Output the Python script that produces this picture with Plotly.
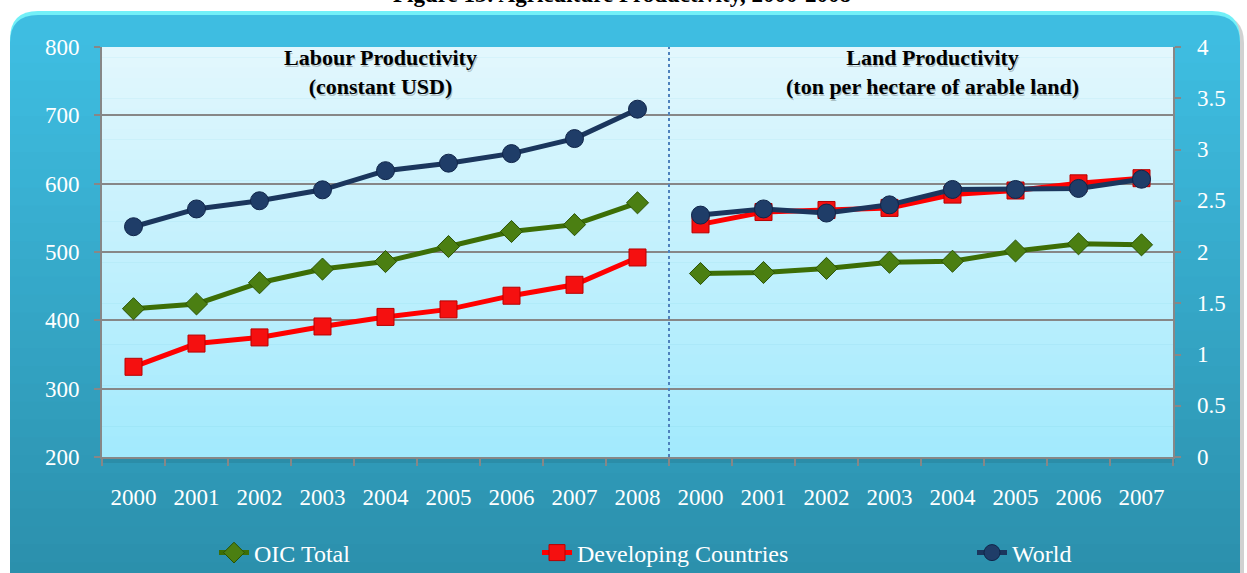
import plotly.graph_objects as go

# ---------------- data ----------------
years_labour = ["2000", "2001", "2002", "2003", "2004", "2005", "2006", "2007", "2008"]
years_land = ["2000", "2001", "2002", "2003", "2004", "2005", "2006", "2007"]

oic_labour = [417, 424, 455, 475, 486, 508, 530, 540, 572]
dev_labour = [332, 366, 375, 391, 405, 416, 436, 452, 492]
world_labour = [537, 563, 575, 591, 619, 630, 644, 666, 709]

oic_land = [1.79, 1.80, 1.84, 1.90, 1.91, 2.01, 2.08, 2.07]
dev_land = [2.27, 2.39, 2.41, 2.43, 2.56, 2.60, 2.67, 2.72]
world_land = [2.36, 2.42, 2.38, 2.46, 2.61, 2.61, 2.62, 2.71]

left_ticks = [200, 300, 400, 500, 600, 700, 800]
right_ticks = [0, 0.5, 1, 1.5, 2, 2.5, 3, 3.5, 4]
right_tick_text = ["0", "0.5", "1", "1.5", "2", "2.5", "3", "3.5", "4"]

series_names = ["OIC Total", "Developing Countries", "World"]

# ---------------- layout geometry ----------------
W, H = 1247, 573
L, R, T, B = 102, 1173, 47, 457
PW, PH = R - L, B - T


def px(x):
    return (x - L) / PW


def py(y):
    return (B - y) / PH


def mix(c1, c2, t):
    a = [int(c1[i:i + 2], 16) for i in (1, 3, 5)]
    b = [int(c2[i:i + 2], 16) for i in (1, 3, 5)]
    return "#%02x%02x%02x" % tuple(round(a[k] + (b[k] - a[k]) * t) for k in range(3))


FONT = "Liberation Serif"

x_lab = list(range(len(years_labour)))
x_land = [len(years_labour) + i for i in range(len(years_land))]
all_years = years_labour + years_land

styles = [
    dict(color="#3d6e06", marker=dict(symbol="diamond", size=17, color="#4b7f12",
                                       line=dict(color="#2a5204", width=1))),
    dict(color="#ff0000", marker=dict(symbol="square", size=17, color="#f51010",
                                       line=dict(color="#b80000", width=1))),
    dict(color="#1b365d", marker=dict(symbol="circle", size=18, color="#1f3d68",
                                       line=dict(color="#10254a", width=1))),
]

fig = go.Figure()
labour_vals = [oic_labour, dev_labour, world_labour]
land_vals = [oic_land, dev_land, world_land]
legends = ["legend", "legend2", "legend3"]

for i, name in enumerate(series_names):
    st = styles[i]
    fig.add_trace(go.Scatter(
        x=x_lab, y=labour_vals[i], mode="lines+markers", name=name,
        line=dict(color=st["color"], width=5), marker=st["marker"],
        legend=legends[i], showlegend=True, yaxis="y", cliponaxis=False))
    fig.add_trace(go.Scatter(
        x=x_land, y=land_vals[i], mode="lines+markers", name=name,
        line=dict(color=st["color"], width=5), marker=st["marker"],
        legend=legends[i], showlegend=False, yaxis="y2", cliponaxis=False))

shapes = []
r = 28


def rounded(x0, y0, x1, y1, r):
    return (f"M {px(x0)},{py(y1)} L {px(x0)},{py(y0 + r)} "
            f"Q {px(x0)},{py(y0)} {px(x0 + r)},{py(y0)} "
            f"L {px(x1 - r)},{py(y0)} Q {px(x1)},{py(y0)} {px(x1)},{py(y0 + r)} "
            f"L {px(x1)},{py(y1)} Z")


shapes.append(dict(type="path", path=rounded(14, 15, 1244, 600, r), xref="paper", yref="paper",
                   fillcolor="rgba(0,0,0,0.18)", line=dict(width=0), layer="below"))
shapes.append(dict(type="path", path=rounded(10, 11, 1240, 600, r), xref="paper", yref="paper",
                   fillcolor="#72f0f8", line=dict(width=0), layer="below"))
shapes.append(dict(type="path", path=rounded(10, 15, 1240, 600, r), xref="paper", yref="paper",
                   fillcolor="#3ebde1", line=dict(width=0), layer="below"))
n = 30
y_start, y_end = 45, 580
for k in range(n):
    y0 = y_start + (y_end - y_start) * k / n
    y1 = y_start + (y_end - y_start) * (k + 1) / n + 1
    shapes.append(dict(type="rect", xref="paper", yref="paper",
                       x0=px(10), x1=px(1240), y0=py(y1), y1=py(y0),
                       fillcolor=mix("#3ebde1", "#2b8fab", (k + 0.5) / n),
                       line=dict(width=0), layer="below"))
# plot area shadow
shapes.append(dict(type="rect", xref="paper", yref="paper", x0=px(L), x1=px(R + 2),
                   y0=py(B + 6), y1=py(B), fillcolor="rgba(0,0,0,0.08)",
                   line=dict(width=0), layer="below"))
# plot area gradient
m = 40
for k in range(m):
    y0 = T + PH * k / m
    y1 = T + PH * (k + 1) / m + 0.6
    shapes.append(dict(type="rect", xref="paper", yref="paper",
                       x0=0, x1=1, y0=py(min(y1, B)), y1=py(y0),
                       fillcolor=mix("#e3f7fd", "#a2eafd", (k + 0.5) / m),
                       line=dict(width=0), layer="below"))
# separator
shapes.append(dict(type="line", xref="x", yref="paper", x0=len(years_labour) - 0.5,
                   x1=len(years_labour) - 0.5, y0=0, y1=1,
                   line=dict(color="#4f82bd", width=2, dash="dot"), layer="above"))

annotations = [
    dict(text="<b>Figure 13: Agriculture Productivity, 2000-2008</b>", xref="paper", yref="paper",
         x=px(622), y=py(9), xanchor="center", yanchor="bottom", showarrow=False,
         font=dict(family=FONT, size=23, color="#000000")),
]
for txt, xc in [("Labour Productivity<br>(constant USD)", 380),
                ("Land Productivity<br>(ton per hectare of arable land)", 932)]:
    annotations.append(dict(text=f"<b>{txt}</b>", xref="paper", yref="paper",
                            x=px(xc + 1), y=py(45), xanchor="center", yanchor="top",
                            showarrow=False, align="center",
                            font=dict(family=FONT, size=22, color="rgba(0,0,0,0.22)")))
    annotations.append(dict(text=f"<b>{txt}</b>", xref="paper", yref="paper",
                            x=px(xc), y=py(43), xanchor="center", yanchor="top",
                            showarrow=False, align="center",
                            font=dict(family=FONT, size=22, color="#000000")))
# right axis tick labels (placed on the y2 scale)
for v, t in zip(right_ticks, right_tick_text):
    annotations.append(dict(text=t, xref="paper", yref="y2", x=px(1195), y=v,
                            xanchor="left", yanchor="middle", showarrow=False,
                            font=dict(family=FONT, size=23, color="#ffffff")))

leg_common = dict(orientation="h", yanchor="middle", xanchor="left", bgcolor="rgba(0,0,0,0)",
                  font=dict(family=FONT, size=24, color="#ffffff"), itemwidth=30)

fig.update_layout(
    width=W, height=H,
    margin=dict(l=L, r=W - R, t=T, b=H - B, pad=0, autoexpand=False),
    paper_bgcolor="#ffffff",
    plot_bgcolor="rgba(0,0,0,0)",
    font=dict(family=FONT, size=23, color="#ffffff"),
    xaxis=dict(range=[-0.5, len(all_years) - 0.5], tickmode="array",
               tickvals=list(range(len(all_years))), ticktext=all_years,
               ticks="", showgrid=False, zeroline=False, automargin=False,
               showline=True, linecolor="#878787", linewidth=2,
               ticklabelstandoff=18,
               tickfont=dict(family=FONT, size=23, color="#ffffff"),
               minor=dict(tickmode="array",
                          tickvals=[i - 0.5 for i in range(len(all_years) + 1)],
                          ticks="outside", ticklen=7, tickcolor="#878787", tickwidth=2,
                          showgrid=False)),
    yaxis=dict(range=[200, 800], tickmode="array", tickvals=left_ticks,
               ticks="outside", ticklen=6, tickcolor="#878787", tickwidth=2,
               showgrid=True, gridcolor="#878787", gridwidth=2, zeroline=False,
               showline=True, linecolor="#878787", linewidth=2, automargin=False,
               ticklabelstandoff=10,
               tickfont=dict(family=FONT, size=23, color="#ffffff")),
    yaxis2=dict(range=[0, 4], overlaying="y", side="right", tickmode="array",
                tickvals=right_ticks, showticklabels=False,
                ticks="outside", ticklen=6, tickcolor="#878787", tickwidth=2,
                showgrid=False, zeroline=False, automargin=False,
                showline=True, linecolor="#878787", linewidth=2),
    legend=dict(x=px(214), y=py(553), **leg_common),
    legend2=dict(x=px(537), y=py(553), **leg_common),
    legend3=dict(x=px(972), y=py(553), **leg_common),
    shapes=shapes,
    annotations=annotations,
)

fig.write_html("out.html", config={"displayModeBar": False},
               post_script="document.body.style.margin='0px';")
